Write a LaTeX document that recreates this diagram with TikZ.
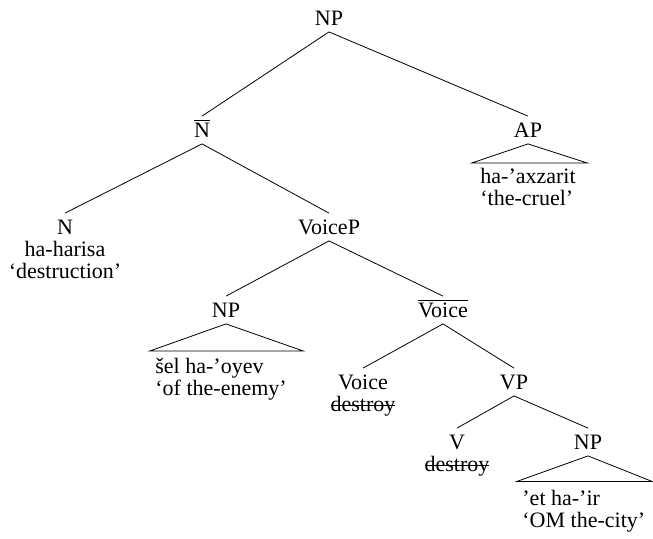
\documentclass[tikz,border=0pt]{standalone}
\usepackage{fontspec}
\setmainfont{Liberation Serif}
\usetikzlibrary{positioning}
\newcommand{\struck}[1]{\setbox0\hbox{#1}\rlap{\raisebox{0.25em}{\rule{\wd0}{0.45pt}}}\box0}
\tikzset{
  cat/.style={inner sep=3pt, text height=7.5pt, text depth=0pt},
  words/.style={inner sep=0pt, align=center, anchor=north},
  roofwords/.style={inner sep=0pt, align=left, anchor=north west}
}
\begin{document}
\begin{tikzpicture}[x=0.5pt, y=-0.5pt, font=\fontsize{11}{10.8}\selectfont]
  \useasboundingbox (0,0) rectangle (653,538);
  \node[cat] (np) at (329,18) {NP};
  \node[cat] (nbar) at (202,130) {$\overline{\mbox{N}}$};
  \node[cat] (ap) at (528,130) {AP};
  \node[cat] (n) at (65,227) {N};
  \node[cat] (voicep) at (329,227) {VoiceP};
  \node[cat] (npobj) at (226,310) {NP};
  \node[cat] (voicebar) at (443,310) {$\overline{\mbox{Voice}}$};
  \node[cat] (voice) at (363,382) {Voice};
  \node[cat] (vp) at (514,382) {VP};
  \node[cat] (v) at (457,442) {V};
  \node[cat] (npcomp) at (588,442) {NP};
  % words under the leaves
  \node[words] (nw) at (n.south) {ha-harisa\\`destruction'};
  \node[words] (voicew) at (voice.south) {\struck{destroy}};
  \node[words] (vw) at (v.south) {\struck{destroy}};
  \node[roofwords] (apw) at (480,168) {ha-'axzarit\\`the-cruel'};
  \node[roofwords] (npobjw) at (155,358) {šel ha-'oyev\\`of the-enemy'};
  \node[roofwords] (npcompw) at (522,490) {'et ha-'ir\\`OM the-city'};
  % branches
  \draw (np.south) -- (nbar.north);
  \draw (np.south) -- (ap.north);
  \draw (nbar.south) -- (n.north);
  \draw (nbar.south) -- (voicep.north);
  \draw (voicep.south) -- (npobj.north);
  \draw (voicep.south) -- (voicebar.north);
  \draw (voicebar.south) -- (voice.north);
  \draw (voicebar.south) -- (vp.north);
  \draw (vp.south) -- (v.north);
  \draw (vp.south) -- (npcomp.north);
  % roofs
  \draw (ap.south) -- ++(-56,19) -- ++(115,0) -- cycle;
  \draw (npobj.south) -- ++(-76,27) -- ++(153,0) -- cycle;
  \draw (npcomp.south) -- ++(-71,25.5) -- ++(135,0) -- cycle;
\end{tikzpicture}
\end{document}
